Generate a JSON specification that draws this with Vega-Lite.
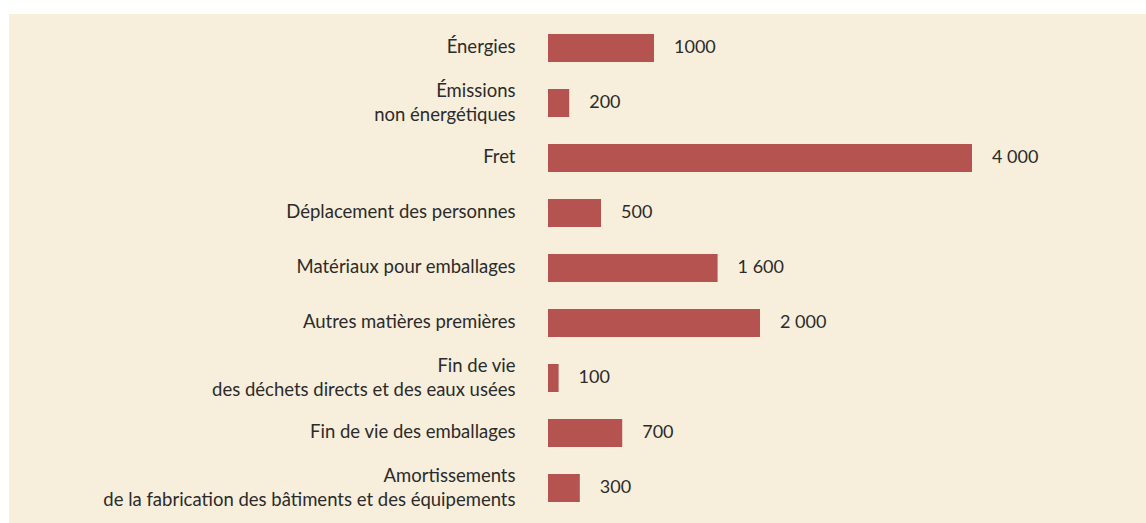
{
  "$schema": "https://vega.github.io/schema/vega-lite/v6.json",
  "width": 1137,
  "height": 509,
  "autosize": {"type": "none"},
  "padding": {"left": 9, "top": 14, "right": 0, "bottom": 0},
  "background": "#ffffff",
  "config": {
    "view": {"fill": "#f7eedb", "stroke": null},
    "font": "Lato"
  },
  "data": {
    "values": [
      {"poste": "Énergies", "valeur": 1000, "label": "1000"},
      {"poste": "Émissions|non énergétiques", "valeur": 200, "label": "200"},
      {"poste": "Fret", "valeur": 4000, "label": "4 000"},
      {"poste": "Déplacement des personnes", "valeur": 500, "label": "500"},
      {"poste": "Matériaux pour emballages", "valeur": 1600, "label": "1 600"},
      {"poste": "Autres matières premières", "valeur": 2000, "label": "2 000"},
      {"poste": "Fin de vie|des déchets directs et des eaux usées", "valeur": 100, "label": "100"},
      {"poste": "Fin de vie des emballages", "valeur": 700, "label": "700"},
      {"poste": "Amortissements|de la fabrication des bâtiments et des équipements", "valeur": 300, "label": "300"}
    ]
  },
  "encoding": {
    "y": {
      "field": "poste",
      "type": "nominal",
      "sort": null,
      "scale": {"range": [6.5, 501.5], "paddingInner": 0.49, "paddingOuter": 0.245},
      "axis": {
        "title": null,
        "domain": false,
        "ticks": false,
        "grid": false,
        "offset": -516,
        "labelPadding": 10,
        "labelFont": "Lato",
        "labelFontSize": 18.5,
        "labelColor": "#2b2b2b",
        "labelBaseline": "middle",
        "labelLineHeight": 24,
        "labelLimit": 600,
        "labelOffset": {"condition": {"test": "indexof(datum.value, '|') >= 0", "value": -12}, "value": -1},
        "labelExpr": "split(datum.label, '|')"
      }
    },
    "x": {
      "field": "valeur",
      "type": "quantitative",
      "scale": {"domain": [0, 4000], "range": [539, 963], "zero": true, "nice": false},
      "axis": null
    }
  },
  "layer": [
    {"mark": {"type": "bar", "color": "#b55351"}},
    {
      "mark": {"type": "text", "align": "left", "baseline": "middle", "dx": 20, "fontSize": 18, "font": "Lato", "color": "#2b2b2b"},
      "encoding": {"text": {"field": "label"}}
    }
  ]
}
